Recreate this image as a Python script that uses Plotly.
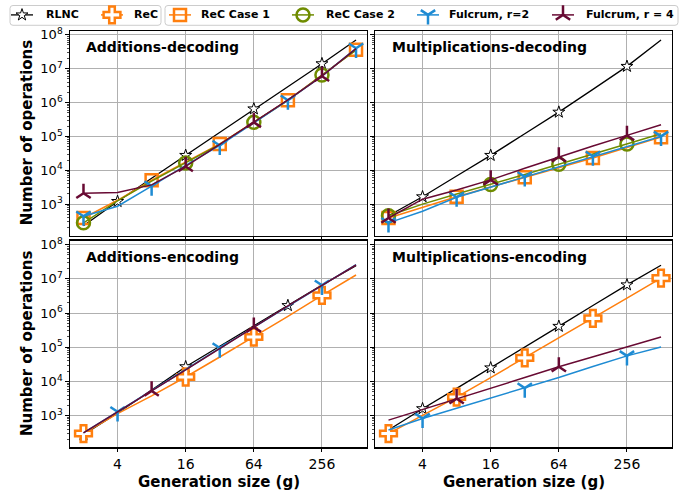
import math
import plotly.graph_objects as go

W, H = 699, 494

# ---------------- data ----------------
G = [2, 4, 8, 16, 32, 64, 128, 256, 512]
x_tick_vals = [4, 16, 64, 256]
x_tick_text = ["4", "16", "64", "256"]
y_tick_exps = [3, 4, 5, 6, 7, 8]

# Additions-decoding
ad_rlnc = [230, 1200, 5800, 27500, 135000, 650000, 3.0e6, 1.4e7, 7.0e7]
ad_case1 = [390, 1300, 5100, 18000, 60000, 263000, 1.17e6, 6.5e6, 3.6e7]
ad_case2 = [280, 1250, 4800, 16500, 58000, 260000, 1.15e6, 6.5e6, 3.5e7]
ad_r2 = [440, 870, 3400, 14000, 54000, 250000, 1.17e6, 6.0e6, 4.0e7]
ad_r4 = [2100, 2200, 3700, 13000, 58000, 260000, 1.2e6, 6.0e6, 3.9e7]

# Multiplications-decoding
md_rlnc = [455, 1650, 6800, 27500, 120000, 520000, 2.45e6, 1.17e7, 7.0e7]
md_case1 = [390, 800, 1660, 3200, 6200, 12000, 23000, 47000, 95000]
md_case2 = [455, 1000, 2000, 3800, 7500, 15000, 30000, 60000, 120000]
md_r2 = [280, 620, 1600, 3200, 6400, 13000, 26000, 51000, 100000]
md_r4 = [390, 1400, 2600, 5200, 11500, 25000, 52000, 107000, 220000]

# Additions-encoding
ae_rlnc = [280, 1200, 5600, 27000, 107000, 430000, 1.66e6, 6.6e6, 2.45e7]
ae_rec = [300, 1150, 3800, 13500, 52000, 200000, 8.0e5, 3.3e6, 1.3e7]
ae_r2 = [316, 1300, 5250, 22400, 95000, 390000, 1.6e6, 6.5e6, 2.6e7]
ae_r4 = [316, 1260, 5300, 22000, 93000, 390000, 1.62e6, 6.5e6, 2.55e7]

# Multiplications-encoding
me_rlnc = [380, 1600, 6300, 25000, 102000, 410000, 1.66e6, 6.7e6, 2.5e7]
me_rec = [300, 1000, 3500, 13000, 49000, 186000, 7.0e5, 2.75e6, 1.05e7]
me_r2 = [380, 830, 1650, 3300, 6400, 13000, 27500, 56000, 102000]
me_r4 = [740, 1500, 3150, 6300, 13000, 27000, 52000, 102000, 200000]

panel_titles = ["Additions-decoding", "Multiplications-decoding",
                "Additions-encoding", "Multiplications-encoding"]
legend_names = ["RLNC", "ReC", "ReC Case 1", "ReC Case 2", "Fulcrum, r=2", "Fulcrum, r = 4"]

# ---------------- styles ----------------
ORANGE = "#ff7f0e"
OLIVE = "#6f8c00"
BLUE = "#1e8bd3"
MAROON = "#680a33"
STYLE = {
    "RLNC": dict(color="black", lw=1.3, symbol="star", size=9, fill="white", mlw=1.0),
    "ReC": dict(color=ORANGE, lw=1.5, symbol="cross", size=14, fill="white", mlw=2.5),
    "ReC Case 1": dict(color=ORANGE, lw=1.5, symbol="square-open", size=12, fill=ORANGE, mlw=2.5),
    "ReC Case 2": dict(color=OLIVE, lw=1.5, symbol="circle-open", size=13, fill=OLIVE, mlw=2.5),
    "Fulcrum, r=2": dict(color=BLUE, lw=1.5, symbol="y-down", size=12, fill=BLUE, mlw=2.5),
    "Fulcrum, r = 4": dict(color=MAROON, lw=1.5, symbol="y-up", size=12, fill=MAROON, mlw=2.5),
}

panels = [
    ("", [("RLNC", ad_rlnc, [1, 3, 5, 7]),
          ("ReC Case 1", ad_case1, [0, 2, 4, 6, 8]),
          ("ReC Case 2", ad_case2, [0, 3, 5, 7]),
          ("Fulcrum, r=2", ad_r2, [0, 2, 4, 6, 8]),
          ("Fulcrum, r = 4", ad_r4, [0, 3, 5, 7])]),
    ("2", [("RLNC", md_rlnc, [1, 3, 5, 7]),
           ("ReC Case 1", md_case1, [0, 2, 4, 6, 8]),
           ("ReC Case 2", md_case2, [0, 3, 5, 7]),
           ("Fulcrum, r=2", md_r2, [0, 2, 4, 6, 8]),
           ("Fulcrum, r = 4", md_r4, [0, 3, 5, 7])]),
    ("3", [("RLNC", ae_rlnc, [0, 3, 6]),
           ("ReC", ae_rec, [0, 3, 5, 7]),
           ("Fulcrum, r=2", ae_r2, [1, 4, 7]),
           ("Fulcrum, r = 4", ae_r4, [2, 5])]),
    ("4", [("RLNC", me_rlnc, [1, 3, 5, 7]),
           ("ReC", me_rec, [0, 2, 4, 6, 8]),
           ("Fulcrum, r=2", me_r2, [1, 4, 7]),
           ("Fulcrum, r = 4", me_r4, [2, 5])]),
]

fig = go.Figure()

for suf, series in panels:
    xa, ya = "x" + suf, "y" + suf
    for name, vals, idx in series:
        st = STYLE[name]
        fig.add_trace(go.Scatter(x=G, y=vals, mode="lines", xaxis=xa, yaxis=ya,
                                 line=dict(color=st["color"], width=st["lw"]),
                                 showlegend=False, hoverinfo="skip"))
        fig.add_trace(go.Scatter(x=[G[i] for i in idx], y=[vals[i] for i in idx],
                                 mode="markers", xaxis=xa, yaxis=ya, cliponaxis=False,
                                 marker=dict(symbol=st["symbol"], size=st["size"], color=st["fill"],
                                             line=dict(color=st["color"], width=st["mlw"])),
                                 showlegend=False, hoverinfo="skip"))

# ---------------- manual legend on a pixel overlay axis ----------------
leg_centers = [22, 112, 180, 303, 428, 563]
LEG_Y = 10
for name, cx in zip(legend_names, leg_centers):
    st = STYLE[name]
    fig.add_trace(go.Scatter(x=[cx - 11, cx + 11], y=[LEG_Y, LEG_Y], mode="lines",
                             xaxis="x5", yaxis="y5",
                             line=dict(color=st["color"], width=st["lw"]),
                             showlegend=False, hoverinfo="skip"))
    fig.add_trace(go.Scatter(x=[cx], y=[LEG_Y], mode="markers", xaxis="x5", yaxis="y5",
                             cliponaxis=False,
                             marker=dict(symbol=st["symbol"], size=st["size"], color=st["fill"],
                                         line=dict(color=st["color"], width=st["mlw"])),
                             showlegend=False, hoverinfo="skip"))


def rounded_box(x0, y0, x1, y1, r=3):
    return (f"M{x0+r},{y0} L{x1-r},{y0} Q{x1},{y0} {x1},{y0+r} L{x1},{y1-r} "
            f"Q{x1},{y1} {x1-r},{y1} L{x0+r},{y1} Q{x0},{y1} {x0},{y1-r} "
            f"L{x0},{y0+r} Q{x0},{y0} {x0+r},{y0} Z")


shapes = []
for (bx0, bx1) in [(10, 161), (165, 678)]:
    shapes.append(dict(type="path", path=rounded_box(bx0, 0.5, bx1, 20.5), xref="x5", yref="y5",
                       line=dict(color="#cccccc", width=1), fillcolor="rgba(255,255,255,0.8)",
                       layer="below"))

FONT = "DejaVu Sans"
annotations = []
leg_text_x = [44, 132, 199, 324, 447, 584]
for name, tx in zip(legend_names, leg_text_x):
    annotations.append(dict(x=tx, y=LEG_Y, xref="x5", yref="y5", text=f"<b>{name}</b>",
                            showarrow=False, xanchor="left", yanchor="middle",
                            font=dict(family=FONT, size=11, color="black")))

for title, (tx, ty) in zip(panel_titles, [(84, 42), (390, 42), (84, 255), (390, 255)]):
    annotations.append(dict(x=tx, y=ty, xref="x5", yref="y5", text=f"<b>{title}</b>",
                            showarrow=False, xanchor="left", yanchor="middle",
                            font=dict(family=FONT, size=14, color="black")))

for cy in [129.5, 342.5]:
    annotations.append(dict(x=27, y=cy, xref="x5", yref="y5", text="<b>Number of operations</b>",
                            textangle=-90, showarrow=False, xanchor="center", yanchor="middle",
                            font=dict(family=FONT, size=15, color="black")))
for cx in [218.5, 523.5]:
    annotations.append(dict(x=cx, y=482, xref="x5", yref="y5", text="<b>Generation size (g)</b>",
                            showarrow=False, xanchor="center", yanchor="middle",
                            font=dict(family=FONT, size=15, color="black")))

# ---------------- axes ----------------
def fx(px):
    return px / W


def fy(py):
    return 1 - py / H


left_dom = [fx(70), fx(367)]
right_dom = [fx(375), fx(672)]
top_dom = [fy(233), fy(26)]
bot_dom = [fy(447), fy(238)]

x_range = [math.log10(1.52), math.log10(640)]
y_range = [2.07, 8.12]
minor_vals = [m * 10 ** e for e in range(2, 9) for m in range(2, 10)]

common_x = dict(type="log", range=x_range, tickmode="array", tickvals=x_tick_vals,
                ticktext=x_tick_text, showgrid=True, gridcolor="#b0b0b0", gridwidth=1,
                showline=True, linecolor="black", linewidth=1.2, mirror=True,
                ticks="outside", ticklen=3.5, tickwidth=1, tickcolor="black",
                tickfont=dict(family=FONT, size=14, color="black"), zeroline=False)
common_y = dict(type="log", range=y_range, tickmode="array",
                tickvals=[10 ** e for e in y_tick_exps],
                ticktext=[f"10<sup>{e}</sup>" for e in y_tick_exps],
                showgrid=True, gridcolor="#b0b0b0", gridwidth=1,
                showline=True, linecolor="black", linewidth=1.2, mirror=True,
                ticks="outside", ticklen=3.5, tickwidth=1, tickcolor="black",
                minor=dict(tickmode="array", tickvals=minor_vals, ticks="outside", ticklen=2,
                           tickwidth=0.7, tickcolor="black", showgrid=False),
                tickfont=dict(family=FONT, size=13, color="black"), zeroline=False)

layout = dict(
    width=W, height=H, margin=dict(l=0, r=0, t=0, b=0, pad=0), autosize=False,
    paper_bgcolor="white", plot_bgcolor="rgba(0,0,0,0)", showlegend=False,
    font=dict(family=FONT, color="black"),
    xaxis=dict(common_x, domain=left_dom, anchor="y", showticklabels=False),
    yaxis=dict(common_y, domain=top_dom, anchor="x"),
    xaxis2=dict(common_x, domain=right_dom, anchor="y2", showticklabels=False),
    yaxis2=dict(common_y, domain=top_dom, anchor="x2", showticklabels=False),
    xaxis3=dict(common_x, domain=left_dom, anchor="y3"),
    yaxis3=dict(common_y, domain=bot_dom, anchor="x3"),
    xaxis4=dict(common_x, domain=right_dom, anchor="y4"),
    yaxis4=dict(common_y, domain=bot_dom, anchor="x4", showticklabels=False),
    xaxis5=dict(domain=[0, 1], range=[0, W], visible=False, fixedrange=True, anchor="y5"),
    yaxis5=dict(domain=[0, 1], range=[H, 0], visible=False, fixedrange=True, anchor="x5"),
    shapes=shapes, annotations=annotations,
)
fig.update_layout(**layout)

fig.write_html("out.html", include_plotlyjs=True,
               config={"responsive": False, "displayModeBar": False, "staticPlot": True},
               post_script="document.body.style.margin='0px';")
